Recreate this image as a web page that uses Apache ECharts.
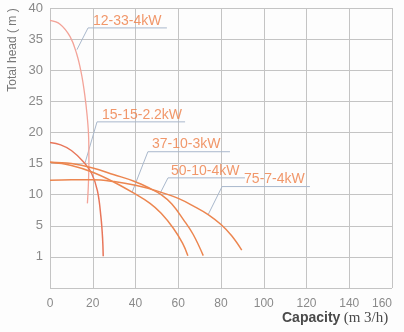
<!DOCTYPE html>
<html>
<head>
<meta charset="utf-8">
<script src="https://cdn.jsdelivr.net/npm/echarts@6/dist/echarts.min.js"></script>
<style>
html,body{margin:0;padding:0;background:#fdfdfd;}
#c{width:404px;height:332px;}
</style>
</head>
<body>
<div id="c"></div>
<script>
// ---- data ----
const curveNames = ['12-33-4kW', '15-15-2.2kW', '37-10-3kW', '50-10-4kW', '75-7-4kW'];
const curve_12_33 = [[0,38],[4.7,37.4],[9.4,35.4],[12.5,32.6],[14.6,29.6],[16.2,26.2],[17.4,22.6],[18.1,19],[18.2,15.5],[18.0,12],[17.5,8.6]];
const curve_15_15 = [[0,18.4],[5,18.0],[10,17.1],[15.6,15.3],[19.5,13.4],[22.2,10.6],[23.8,6.5],[24.6,3.0],[24.9,0.1]];
const curve_37_10 = [[0,15.2],[10,14.7],[20,13.6],[30,12.0],[38.4,10.4],[46.8,8.6],[52,7.0],[57.7,4.6],[62,2.2],[64.5,0.2]];
const curve_50_10 = [[0,15.2],[10,15.0],[20,14.3],[30,13.2],[39,12.2],[46.8,11.0],[52,10.0],[57,8.5],[62.4,6.0],[67,3.6],[71.7,0.2]];
const curve_75_7  = [[0,12.3],[10,12.4],[20,12.4],[30,12.1],[40,11.5],[50,10.6],[60,9.4],[68,8.0],[74,6.8],[80,5.2],[85,3.4],[89.7,1.1]];
const curves = [curve_12_33, curve_15_15, curve_37_10, curve_50_10, curve_75_7];

// leader lines (data coords): curve point -> elbow -> end of underline
const leader_12_33 = [[12.6,33.3],[17.8,36.8],[54.7,36.8]];
const leader_15_15 = [[16.4,15.1],[22,21.7],[63.2,21.7]];
const leader_37_10 = [[38.4,10.4],[45.8,16.9],[84.2,16.9]];
const leader_50_10 = [[51.5,10.2],[55.2,12.7],[91.2,12.7]];
const leader_75_7  = [[74,6.8],[80.5,11.3],[121.6,11.3]];
const leaders = [leader_12_33, leader_15_15, leader_37_10, leader_50_10, leader_75_7];

// label anchors (left edge, vertical middle) in data coords
const labelAnchors = [[20.1,37.9],[24.3,22.8],[47.7,18.2],[56.6,13.8],[90.8,12.5]];

const xMin = 0, xMax = 160, xStep = 20;
const yTickValues = [-5, 0, 5, 10, 15, 20, 25, 30, 35, 40];
const yTickLabels = ['', '1', '5', '10', '15', '20', '25', '30', '35', '40'];
const yAxisTitle = 'Total head ( m )';
const xAxisTitle = 'Capacity';
const xAxisUnit = '(m 3/h)';

// ---- styles ----
const curveColors = ['#f3a398', '#e8765a', '#ec8650', '#ec8650', '#ec8650'];
const labelColor = '#ee7d45';
const leaderColor = '#a9b8cc';

const series = [];
curves.forEach((d, i) => {
  series.push({
    type: 'line', name: curveNames[i], data: d, smooth: 0.4,
    showSymbol: false, silent: true,
    lineStyle: { color: curveColors[i], width: i === 0 ? 1.3 : 1.5 },
    z: 3
  });
});
leaders.forEach((d, i) => {
  series.push({
    type: 'line', data: d, showSymbol: false, silent: true,
    lineStyle: { color: leaderColor, width: 1 }, z: 2
  });
});
series.push({
  type: 'scatter', symbolSize: 0, silent: true, z: 4,
  data: labelAnchors.map((p, i) => ({ value: p, name: curveNames[i] })),
  label: {
    show: true, position: [0, 0], align: 'left', verticalAlign: 'middle',
    formatter: p => p.name, color: labelColor, fontSize: 14,
    fontFamily: 'Liberation Sans, Arial, sans-serif'
  }
});

const chart = echarts.init(document.getElementById('c'), null, { renderer: 'canvas' });
chart.setOption({
  animation: false,
  backgroundColor: '#fdfdfd',
  grid: { left: 50, right: 12, top: 8, bottom: 44 },
  xAxis: {
    type: 'value', min: xMin, max: xMax, interval: xStep,
    axisLine: { show: false }, axisTick: { show: false },
    splitLine: { show: true, lineStyle: { color: '#c4c4c4', width: 1 } },
    axisLabel: { color: '#8a8a8a', fontSize: 12, margin: 10, alignMaxLabel: 'right',
      fontFamily: 'Liberation Sans, Arial, sans-serif' }
  },
  yAxis: {
    type: 'value', min: yTickValues[0], max: yTickValues[yTickValues.length - 1], interval: 5,
    axisLine: { show: false }, axisTick: { show: false },
    splitLine: { show: true, lineStyle: { color: '#c4c4c4', width: 1 } },
    axisLabel: {
      color: '#8a8a8a', fontSize: 13, margin: 7,
      fontFamily: 'Liberation Sans, Arial, sans-serif',
      formatter: v => { const k = yTickValues.indexOf(v); return k >= 0 ? yTickLabels[k] : ''; }
    }
  },
  graphic: [
    {
      type: 'text', x: 13, y: 50, rotation: Math.PI / 2, silent: true,
      style: { text: yAxisTitle, fill: '#777', fontSize: 12, align: 'center', verticalAlign: 'middle',
        fontFamily: 'Liberation Sans, Arial, sans-serif' }
    },
    {
      type: 'text', x: 282, y: 318, silent: true,
      style: {
        text: '{a|' + xAxisTitle + '} {b|' + xAxisUnit + '}',
        verticalAlign: 'middle', align: 'left',
        rich: {
          a: { fontSize: 14, fontWeight: 'bold', fill: '#4a4a4a', fontFamily: 'Liberation Sans, Arial, sans-serif' },
          b: { fontSize: 15, fill: '#4a4a4a', fontFamily: 'Liberation Serif, serif' }
        }
      }
    }
  ],
  series: series
});
</script>
</body>
</html>
